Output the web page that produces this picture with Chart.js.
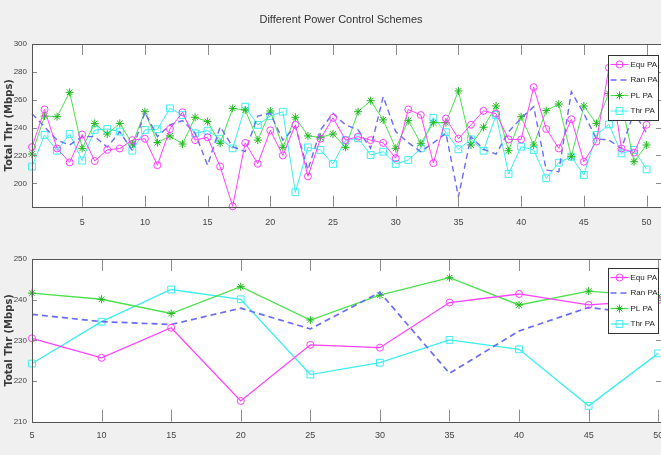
<!DOCTYPE html>
<html><head><meta charset="utf-8">
<script src="https://cdn.jsdelivr.net/npm/chart.js@4/dist/chart.umd.min.js"></script>
<style>
html,body{margin:0;padding:0;background:#f0f0f0;overflow:hidden;width:661px;height:455px;}
#wrap{position:relative;width:661px;height:455px;overflow:hidden;}
canvas{position:absolute;left:0;}
</style></head><body>
<div id="wrap">
<canvas id="topChart" width="690" height="232" style="top:0"></canvas>
<canvas id="botChart" width="690" height="223" style="top:232px"></canvas>
</div>
<script>
const titleText = 'Different Power Control Schemes';
const yAxisTitle = 'Total Thr (Mbps)';
const seriesNames = ['Equ PA', 'Ran PA', 'PL PA', 'Thr PA'];

// ---- top panel ----
const xTop = [1,2,3,4,5,6,7,8,9,10,11,12,13,14,15,16,17,18,19,20,21,22,23,24,25,26,27,28,29,30,31,32,33,34,35,36,37,38,39,40,41,42,43,44,45,46,47,48,49,50];
const equTop = [226,253,225,215,235,216,224,225,231,232,213,239,251,231,233,212,183.5,229,214,238,220,242,205,232,247,231,233.5,231,229,218,253,249,214.5,246.5,232,242,252,250,231.5,231.5,269,239,225,246,215.5,230,283,225,222,242];
const ranTop = [250,240.5,231,227.5,233.5,233.5,226,237,223.5,251,233.5,242,245,236,213,240.5,226.3,222.7,248.3,250.2,231,240.7,209.6,238.3,250.2,241.9,238.3,225.1,262.2,237.1,229.2,222.7,229,236,190.4,233.5,224.4,221,237.1,246.7,255,209.5,208.3,265.8,250,232,231,225,251,236];
const plTop = [221,248.3,247.8,265.3,225.1,243,235.4,243,228.2,251.4,229.2,234,228.2,247.4,244.3,228.7,253.8,252.6,231,251.9,225.8,247.4,234,233,235.4,225.8,251.4,259.3,245.5,225.1,245,228.7,243.5,243.5,266.3,227.5,240.2,255.5,223.4,247.8,227.5,252.2,256.9,219.1,255.5,243,264.5,258,215.5,227.5];
const thrTop = [212,234.7,223.4,235.4,216.3,238.3,239,237.1,223.4,238.3,238.8,253.8,249,235.9,237.8,232,225.1,255,241.9,248.3,251.4,193.5,225.8,223.9,213.9,231,232.3,220.3,222.7,213.9,216.7,225.1,247,236.7,224.4,231.6,223.4,249,206.7,226.3,223.9,203.6,214.8,219.1,206,234.7,242.3,221.5,224,210];
const xTicksTop = [5,10,15,20,25,30,35,40,45,50];
const yTicksTop = [200,220,240,260,280,300];

// ---- bottom panel ----
const xBottom = [5,10,15,20,25,30,35,40,45,50];
const equBottom = [230.5,225.7,233.1,215.1,228.9,228.2,239.3,241.4,238.7,239.9];
const ranBottom = [236.4,234.6,233.9,237.9,232.8,241.8,221.9,232.3,238.1,236];
const plBottom = [241.6,240.1,236.6,243.2,235,241.1,245.4,238.7,242.1,240.7];
const thrBottom = [224.3,234.6,242.5,240.1,221.6,224.5,230.1,227.8,213.9,226.8];
const xTicksBottom = [5,10,15,20,25,30,35,40,45,50];
const yTicksBottom = [210,220,230,240,250];

const SANS = "'Liberation Sans',Arial,sans-serif";

const seriesStyle = [
  {line:'#ff40ff', point:'#ff40ff', pointStyle:'circle', dash:[], r:3.5},
  {line:'#6b6bf5', point:'#6b6bf5', pointStyle:false, dash:[6,4], r:0},
  {line:'#4ce04c', point:'#1fb81f', pointStyle:'star', dash:[], r:4},
  {line:'#3deef0', point:'#3deef0', pointStyle:'rect', r:4.8, dash:[]}
];

function buildDatasets(xs, seriesList, lw){
  return seriesList.map((ys, i) => {
    const s = seriesStyle[i];
    return {
      label: seriesNames[i],
      data: xs.map((x, k) => ({x: x, y: ys[k]})),
      borderColor: s.line,
      borderWidth: i === 1 ? lw + 0.4 : lw,
      borderDash: s.dash,
      pointStyle: s.pointStyle,
      pointRadius: s.r,
      pointHoverRadius: s.r,
      pointBorderColor: s.point,
      pointBackgroundColor: 'rgba(0,0,0,0)',
      pointBorderWidth: 1,
      tension: 0,
      fill: false,
      clip: 6
    };
  });
}

function drawMarker(ctx, style, x, y, r){
  ctx.beginPath();
  if (style === 'circle') { ctx.arc(x, y, r, 0, Math.PI * 2); }
  else if (style === 'rect') { const s = r * Math.SQRT1_2; ctx.rect(x - s, y - s, 2 * s, 2 * s); }
  else if (style === 'star') {
    for (let k = 0; k < 4; k++) { const a = k * Math.PI / 4;
      ctx.moveTo(x + Math.cos(a) * r, y + Math.sin(a) * r);
      ctx.lineTo(x - Math.cos(a) * r, y - Math.sin(a) * r); }
  }
  ctx.stroke();
}

const matlabAxes = {
  id: 'matlabAxes',
  beforeDraw(chart){
    const a = chart.chartArea, ctx = chart.ctx;
    ctx.save(); ctx.fillStyle = '#ffffff';
    ctx.fillRect(a.left, a.top, a.right - a.left, a.bottom - a.top);
    ctx.restore();
  },
  afterDraw(chart, args, opts){
    if (!opts.title) return;
    const ctx = chart.ctx;
    ctx.save();
    ctx.font = "11px " + SANS; ctx.fillStyle = '#333333';
    ctx.textAlign = 'center'; ctx.textBaseline = 'middle';
    ctx.fillText(opts.title, opts.titleX, opts.titleY);
    ctx.restore();
  },
  afterDatasetsDraw(chart, args, opts){
    const a = chart.chartArea, ctx = chart.ctx, xs = chart.scales.x, ys = chart.scales.y;
    ctx.save();
    ctx.strokeStyle = '#8c8c8c'; ctx.lineWidth = 1; ctx.setLineDash([]);
    ctx.beginPath();
    xs.ticks.forEach(t => { const px = Math.round(xs.getPixelForValue(t.value)) + 0.5;
      ctx.moveTo(px, a.bottom); ctx.lineTo(px, a.bottom - opts.xTick);
      ctx.moveTo(px, a.top); ctx.lineTo(px, a.top + opts.xTick); });
    ys.ticks.forEach(t => { const py = Math.round(ys.getPixelForValue(t.value)) + 0.5;
      ctx.moveTo(a.left, py); ctx.lineTo(a.left + opts.yTick, py);
      ctx.moveTo(a.right, py); ctx.lineTo(a.right - opts.yTick, py); });
    ctx.stroke();
    ctx.strokeStyle = '#555555';
    ctx.strokeRect(Math.round(a.left) + 0.5, Math.round(a.top) + 0.5, Math.round(a.right - a.left), Math.round(a.bottom - a.top));
    // legend box
    const bw = 50, bh = 65;
    const bx = Math.round(a.right - 53) + 0.5, by = Math.round(a.top + opts.legTop) + 0.5;
    ctx.fillStyle = '#ffffff'; ctx.fillRect(bx, by, bw, bh);
    ctx.strokeStyle = '#333333'; ctx.strokeRect(bx, by, bw, bh);
    ctx.font = "8px " + SANS; ctx.textBaseline = 'middle'; ctx.textAlign = 'left';
    chart.data.datasets.forEach((ds, i) => {
      const s = seriesStyle[i];
      const yy = by + 9 + i * 15.5;
      ctx.strokeStyle = s.line; ctx.lineWidth = ds.borderWidth; ctx.setLineDash(s.dash);
      ctx.beginPath(); ctx.moveTo(bx + 2, yy); ctx.lineTo(bx + 20, yy); ctx.stroke();
      ctx.setLineDash([]); ctx.lineWidth = 1; ctx.strokeStyle = s.point;
      if (s.pointStyle) drawMarker(ctx, s.pointStyle, bx + 11, yy, s.r);
      ctx.fillStyle = '#222222'; ctx.fillText(ds.label, bx + 22, yy);
    });
    ctx.restore();
  }
};

function makeChart(id, cfg){
  return new Chart(document.getElementById(id), {
    type: 'line',
    data: { datasets: cfg.datasets },
    plugins: [matlabAxes],
    options: {
      responsive: false, animation: false, devicePixelRatio: 1,
      layout: { autoPadding: false, padding: { left: 0, right: 29, top: cfg.padTop, bottom: 0 } },
      plugins: {
        legend: { display: false },
        tooltip: { enabled: false },
        title: { display: false },
        matlabAxes: { xTick: cfg.xTick, yTick: 5, legTop: cfg.legTop,
          title: cfg.title, titleX: 341, titleY: 20 }
      },
      scales: {
        x: {
          type: 'linear', min: cfg.xmin, max: cfg.xmax,
          grid: { display: false, drawTicks: false }, border: { display: false },
          afterBuildTicks: s => { s.ticks = cfg.xTicks.map(v => ({ value: v })); },
          afterFit: s => { s.height = cfg.xAxisH; s.paddingLeft = 0; s.paddingRight = 0; },
          ticks: { color: '#444444', font: { family: SANS, size: 9 }, padding: cfg.xPad, maxRotation: 0, autoSkip: false }
        },
        y: {
          type: 'linear', min: cfg.ymin, max: cfg.ymax,
          grid: { display: false, drawTicks: false }, border: { display: false },
          afterBuildTicks: s => { s.ticks = cfg.yTicks.map(v => ({ value: v })); },
          afterFit: s => { s.width = 32; s.paddingTop = 0; s.paddingBottom = 0; },
          ticks: { color: '#444444', font: { family: SANS, size: 8 }, padding: 5, autoSkip: false },
          title: { display: true, text: yAxisTitle, color: '#3a3a3a',
            font: { family: "'DejaVu Sans',sans-serif", size: 10, weight: 'bold' },
            padding: { top: 3, bottom: 0 } }
        }
      }
    }
  });
}

makeChart('topChart', {
  datasets: buildDatasets(xTop, [equTop, ranTop, plTop, thrTop], 1),
  title: titleText, padTop: 44,
  xmin: 1, xmax: 51.15, ymin: 183.2, ymax: 300,
  xTicks: xTicksTop, yTicks: yTicksTop,
  xAxisH: 25.3, xPad: 10, xTick: 11, legTop: 11
});

makeChart('botChart', {
  datasets: buildDatasets(xBottom, [equBottom, ranBottom, plBottom, thrBottom], 1.3),
  title: null, padTop: 27,
  xmin: 5, xmax: 50.2, ymin: 210, ymax: 250,
  xTicks: xTicksBottom, yTicks: yTicksBottom,
  xAxisH: 33.3, xPad: 8, xTick: 12, legTop: 9
});
</script>
</body></html>
